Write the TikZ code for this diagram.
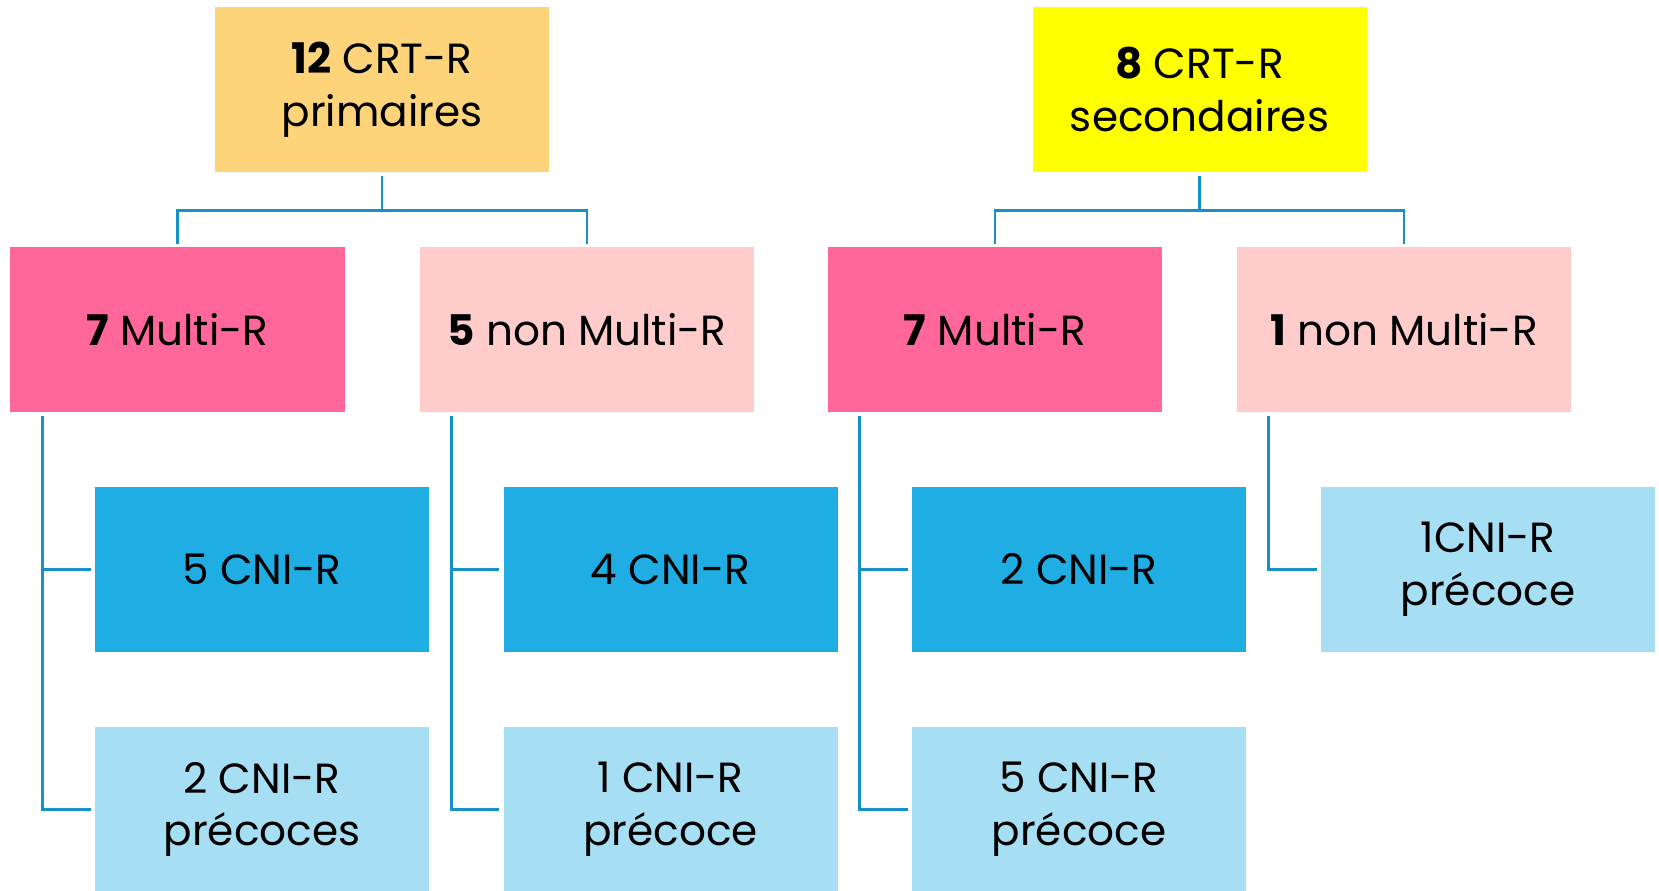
\documentclass[tikz,border=0pt]{standalone}
\usepackage{fontspec}
\setmainfont{Poppins}
\usepackage{xcolor}
\usepackage{tikz}
\definecolor{orangeclair}{RGB}{254,212,122}
\definecolor{jaunevif}{RGB}{255,255,0}
\definecolor{rosevif}{RGB}{255,102,153}
\definecolor{roseclair}{RGB}{255,204,204}
\definecolor{bleufonce}{RGB}{31,173,227}
\definecolor{bleuclair}{RGB}{166,222,243}
\definecolor{bleutrait}{RGB}{22,145,200}
\tikzset{
  boite/.style={rectangle,minimum width=66.8mm,minimum height=33mm,inner sep=0pt,
    align=center,font=\fontsize{24}{30}\selectfont},
  racinep/.style={boite,fill=orangeclair},
  racines/.style={boite,fill=jaunevif},
  multi/.style={boite,fill=rosevif},
  nonmulti/.style={boite,fill=roseclair},
  cni/.style={boite,fill=bleufonce},
  cniprec/.style={boite,fill=bleuclair},
  trait/.style={line width=1.6pt,bleutrait}
}

\begin{document}
\begin{tikzpicture}[x=0.2mm,y=-0.2mm]
\useasboundingbox (0,0) rectangle (1659,890);
% racines
\node[racinep] (crtp) at (382,89.5) {\textbf{12} CRT-R\\primaires};
\node[racines] (crts) at (1199.5,89.5) {\textbf{8} CRT-R\\secondaires};
% deuxieme niveau
\node[multi] (mrp) at (177.5,329.5) {\textbf{7} Multi-R};
\node[nonmulti] (nmrp) at (587,329.5) {\textbf{5} non Multi-R};
\node[multi] (mrs) at (995,329.5) {\textbf{7} Multi-R};
\node[nonmulti] (nmrs) at (1404,329.5) {\textbf{1} non Multi-R};
% CNI-R
\node[cni] (cmrp) at (262,569.5) {5 CNI-R};
\node[cni] (cnmrp) at (670.5,569.5) {4 CNI-R};
\node[cni] (cmrs) at (1079,569.5) {2 CNI-R};
\node[cniprec] (cnmrs) at (1488,569.5) {1CNI-R\\précoce};
\node[cniprec] (pmrp) at (262,809.5) {2 CNI-R\\précoces};
\node[cniprec] (pnmrp) at (670.5,809.5) {1 CNI-R\\précoce};
\node[cniprec] (pmrs) at (1079,809.5) {5 CNI-R\\précoce};
% liens du haut
\draw[trait] ([shift={(0,4)}]crtp.south) -- ([shift={(0,38)}]crtp.south);
\draw[trait] ([shift={(0,-3)}]mrp.north) |- ([shift={(0,38)}]crtp.south) -| ([shift={(0,-3)}]nmrp.north);
\draw[trait] ([shift={(0,4)}]crts.south) -- ([shift={(0,38)}]crts.south);
\draw[trait] ([shift={(0,-3)}]mrs.north) |- ([shift={(0,38)}]crts.south) -| ([shift={(0,-3)}]nmrs.north);
% liens vers les CNI-R
\coordinate (vmrp) at ([shift={(32,4)}]mrp.south west);
\coordinate (vnmrp) at ([shift={(32,4)}]nmrp.south west);
\coordinate (vmrs) at ([shift={(32,4)}]mrs.south west);
\coordinate (vnmrs) at ([shift={(32,4)}]nmrs.south west);
\draw[trait] (vmrp) |- ([shift={(-4,0)}]pmrp.west);
\draw[trait] (vmrp |- cmrp.west) -- ([shift={(-4,0)}]cmrp.west);
\draw[trait] (vnmrp) |- ([shift={(-4,0)}]pnmrp.west);
\draw[trait] (vnmrp |- cnmrp.west) -- ([shift={(-4,0)}]cnmrp.west);
\draw[trait] (vmrs) |- ([shift={(-4,0)}]pmrs.west);
\draw[trait] (vmrs |- cmrs.west) -- ([shift={(-4,0)}]cmrs.west);
\draw[trait] (vnmrs) |- ([shift={(-4,0)}]cnmrs.west);
\end{tikzpicture}
\end{document}
